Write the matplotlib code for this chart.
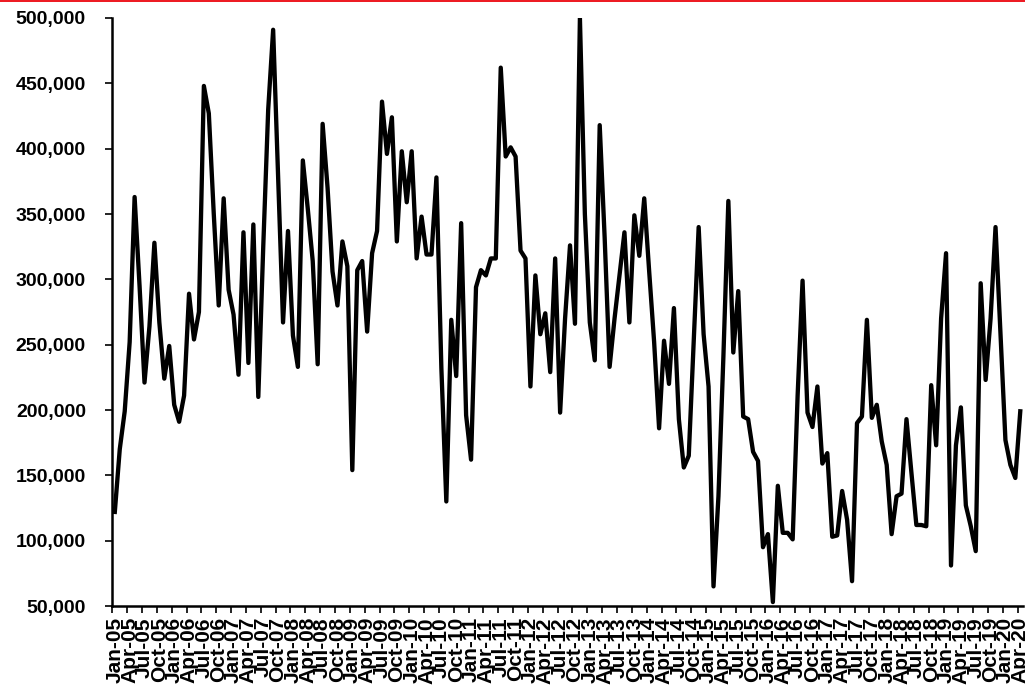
import matplotlib.pyplot as plt
import matplotlib.ticker as mticker
import pandas as pd
from matplotlib.patches import Rectangle

# monthly series, Jan-05 .. Apr-20
verdier = [
    122000, 170000, 199000, 252000, 363000, 295000, 221000, 264000, 328000, 267000,
    224000, 249000, 204000, 191000, 211000, 289000, 254000, 275000, 448000, 427000,
    350000, 280000, 362000, 292000, 273000, 227000, 336000, 236000, 342000, 210000,
    325000, 430000, 491000, 380000, 267000, 337000, 257000, 233000, 391000, 354000,
    314000, 235000, 419000, 370000, 306000, 280000, 329000, 310000, 154000, 307000,
    314000, 260000, 320000, 337000, 436000, 396000, 424000, 329000, 398000, 359000,
    398000, 316000, 348000, 319000, 319000, 378000, 232000, 130000, 269000, 226000,
    343000, 196000, 162000, 294000, 307000, 303000, 316000, 316000, 462000, 394000,
    401000, 394000, 322000, 316000, 218000, 303000, 258000, 274000, 229000, 316000,
    198000, 270000, 326000, 266000, 500000, 350000, 267000, 238000, 418000, 332000,
    233000, 270000, 303000, 336000, 267000, 349000, 318000, 362000, 306000, 252000,
    186000, 253000, 220000, 278000, 193000, 156000, 165000, 252000, 340000, 258000,
    218000, 65000, 134000, 241000, 360000, 244000, 291000, 195000, 193000, 168000,
    161000, 95000, 105000, 53000, 142000, 106000, 106000, 101000, 211000, 299000,
    198000, 187000, 218000, 159000, 167000, 103000, 104000, 138000, 116000, 69000,
    190000, 195000, 269000, 194000, 204000, 176000, 158000, 105000, 134000, 136000,
    193000, 152000, 112000, 112000, 111000, 219000, 173000, 270000, 320000, 81000,
    173000, 202000, 127000, 111000, 92000, 297000, 223000, 270000, 340000, 258000,
    177000, 158000, 148000, 199000,
]
maaneder = [d.strftime("%b-%y") for d in pd.date_range("2005-01-01", periods=len(verdier), freq="MS")]
yticks = [50000, 100000, 150000, 200000, 250000, 300000, 350000, 400000, 450000, 500000]

plt.rcParams["font.family"] = ["Liberation Sans", "DejaVu Sans"]
plt.rcParams["font.weight"] = "bold"

fig = plt.figure(figsize=(10.25, 6.87), dpi=100)
ax = fig.add_axes([0.1096, 0.1179, 0.8882, 0.8559])

x = list(range(len(verdier)))
ax.plot(x, verdier, color="black", linewidth=3.1, solid_joinstyle="round", zorder=3)

ax.set_xlim(-0.5, len(verdier) - 0.5)
ax.set_ylim(50000, 500000)
ax.set_yticks(yticks)
ax.yaxis.set_major_formatter(mticker.StrMethodFormatter("{x:,.0f}"))

# labels every third month, tick marks on the category boundaries
ax.set_xticks(x[::3])
ax.set_xticklabels(maaneder[::3], rotation=90)
ax.set_xticks([i - 0.5 for i in x[::3]], minor=True)
ax.tick_params(axis="x", which="major", length=0, pad=8, labelsize=15)
ax.tick_params(axis="x", which="minor", length=5, width=1.2, direction="out")
ax.tick_params(axis="y", length=5, width=1.2, pad=14, labelsize=14)

for s in ["top", "right"]:
    ax.spines[s].set_visible(False)
for s in ["left", "bottom"]:
    ax.spines[s].set_linewidth(1.8)

for lab in ax.get_xticklabels() + ax.get_yticklabels():
    lab.set_fontweight("bold")

# red rule along the top edge
fig.add_artist(Rectangle((0, 1 - 2 / 687), 1, 2 / 687, transform=fig.transFigure,
                         color="#ED1C24", linewidth=0))

fig.savefig("out.png", dpi=100)
